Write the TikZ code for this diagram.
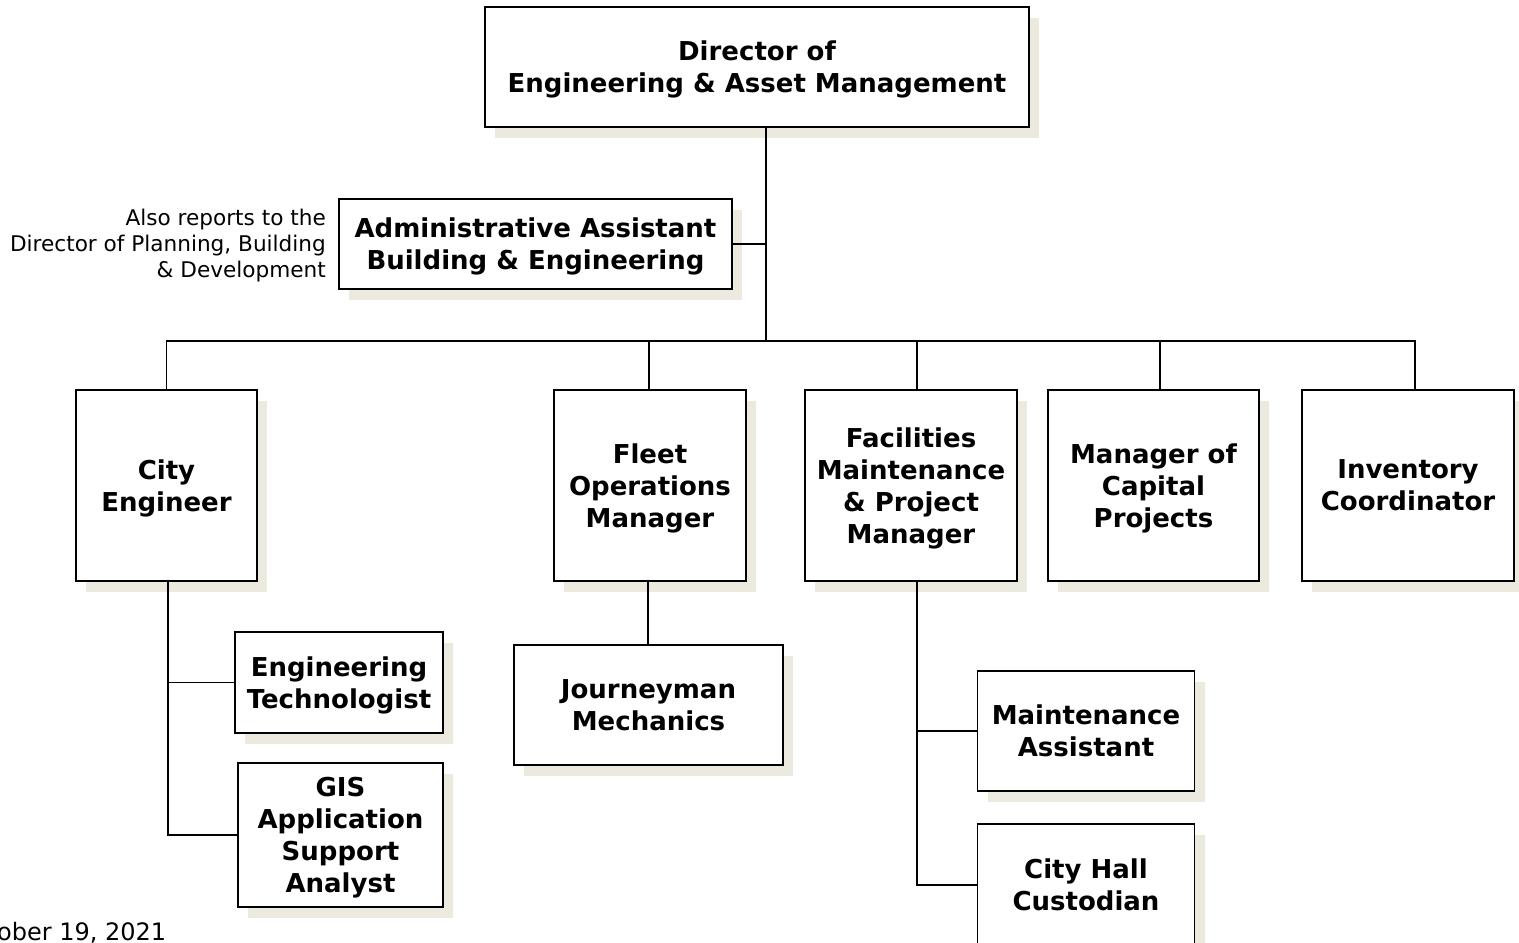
\documentclass[tikz,border=0pt]{standalone}
\usepackage{fontspec}
\setmainfont{DejaVu Sans}
\usetikzlibrary{shadows}
\definecolor{shadowc}{HTML}{ECE9DF}
\tikzset{
  box/.style={draw=black, line width=1.8pt, fill=white, align=center,
    inner sep=0pt, text depth=0pt, font=\bfseries\fontsize{26}{32}\selectfont,
    drop shadow={shadow xshift=10pt, shadow yshift=-11pt, fill=shadowc, opacity=1}},
  conn/.style={draw=black, line width=1.6pt},
  note/.style={align=right, inner sep=0pt, font=\fontsize{21.6}{26}\selectfont},
}
\begin{document}
\begin{tikzpicture}[x=1pt, y=-1pt]
\useasboundingbox (0,0) rectangle (1519,943);

% boxes
\node[box, minimum width=544pt, minimum height=120pt] (dir) at (757,67) {Director of\\Engineering \& Asset Management};
\node[box, minimum width=393pt, minimum height=90pt] (adm) at (535.5,244) {Administrative Assistant\\Building \& Engineering};
\node[box, minimum width=181pt, minimum height=191pt] (ce) at (166.5,485.5) {City\\Engineer};
\node[box, minimum width=192pt, minimum height=191pt] (fleet) at (650,485.5) {Fleet\\Operations\\Manager};
\node[box, minimum width=212pt, minimum height=191pt] (fac) at (911,485.5) {Facilities\\Maintenance\\\& Project\\Manager};
\node[box, minimum width=211pt, minimum height=191pt] (mcp) at (1153.5,485.5) {Manager of\\Capital\\Projects};
\node[box, minimum width=212pt, minimum height=191pt] (inv) at (1408,485.5) {Inventory\\Coordinator};
\node[box, minimum width=208pt, minimum height=101pt] (et) at (339,682.5) {Engineering\\Technologist};
\node[box, minimum width=205pt, minimum height=144pt] (gis) at (340.5,835) {GIS\\Application\\Support\\Analyst};
\node[box, minimum width=269pt, minimum height=120pt] (jm) at (648.5,705) {Journeyman\\Mechanics};
\node[box, minimum width=217pt, minimum height=120pt] (ma) at (1086,731) {Maintenance\\Assistant};
\node[box, minimum width=217pt, minimum height=122pt] (chc) at (1086,885) {City Hall\\Custodian};

% notes
\node[note, anchor=east] (also) at (326,246) {Also reports to the\\Director of Planning, Building\\\& Development};
\node[anchor=base west, inner sep=0pt, font=\fontsize{24}{28}\selectfont] (date) at (-3,940) {ober 19, 2021};

% connectors
\coordinate (trunk) at (766,341);
\draw[conn] (dir.south -| trunk) -- (trunk);
\draw[conn] (adm.east) -- (adm.east -| trunk);
\draw[conn] (ce.north) -- (ce.north |- trunk) -- ([xshift=7pt]inv.north |- trunk) -- ([xshift=7pt]inv.north);
\draw[conn] ([xshift=-1pt]fleet.north) -- ([xshift=-1pt]fleet.north |- trunk);
\draw[conn] ([xshift=6pt]fac.north) -- ([xshift=6pt]fac.north |- trunk);
\draw[conn] ([xshift=6.5pt]mcp.north) -- ([xshift=6.5pt]mcp.north |- trunk);

\draw[conn] ([xshift=1.5pt]ce.south) |- (et.west);
\draw[conn] ([xshift=1.5pt]ce.south) |- (gis.west);
\draw[conn] ([xshift=-2pt]fleet.south) -- ([xshift=-2pt]fleet.south |- jm.north);
\draw[conn] ([xshift=6pt]fac.south) |- (ma.west);
\draw[conn] ([xshift=6pt]fac.south) |- (chc.west);
\end{tikzpicture}
\end{document}
